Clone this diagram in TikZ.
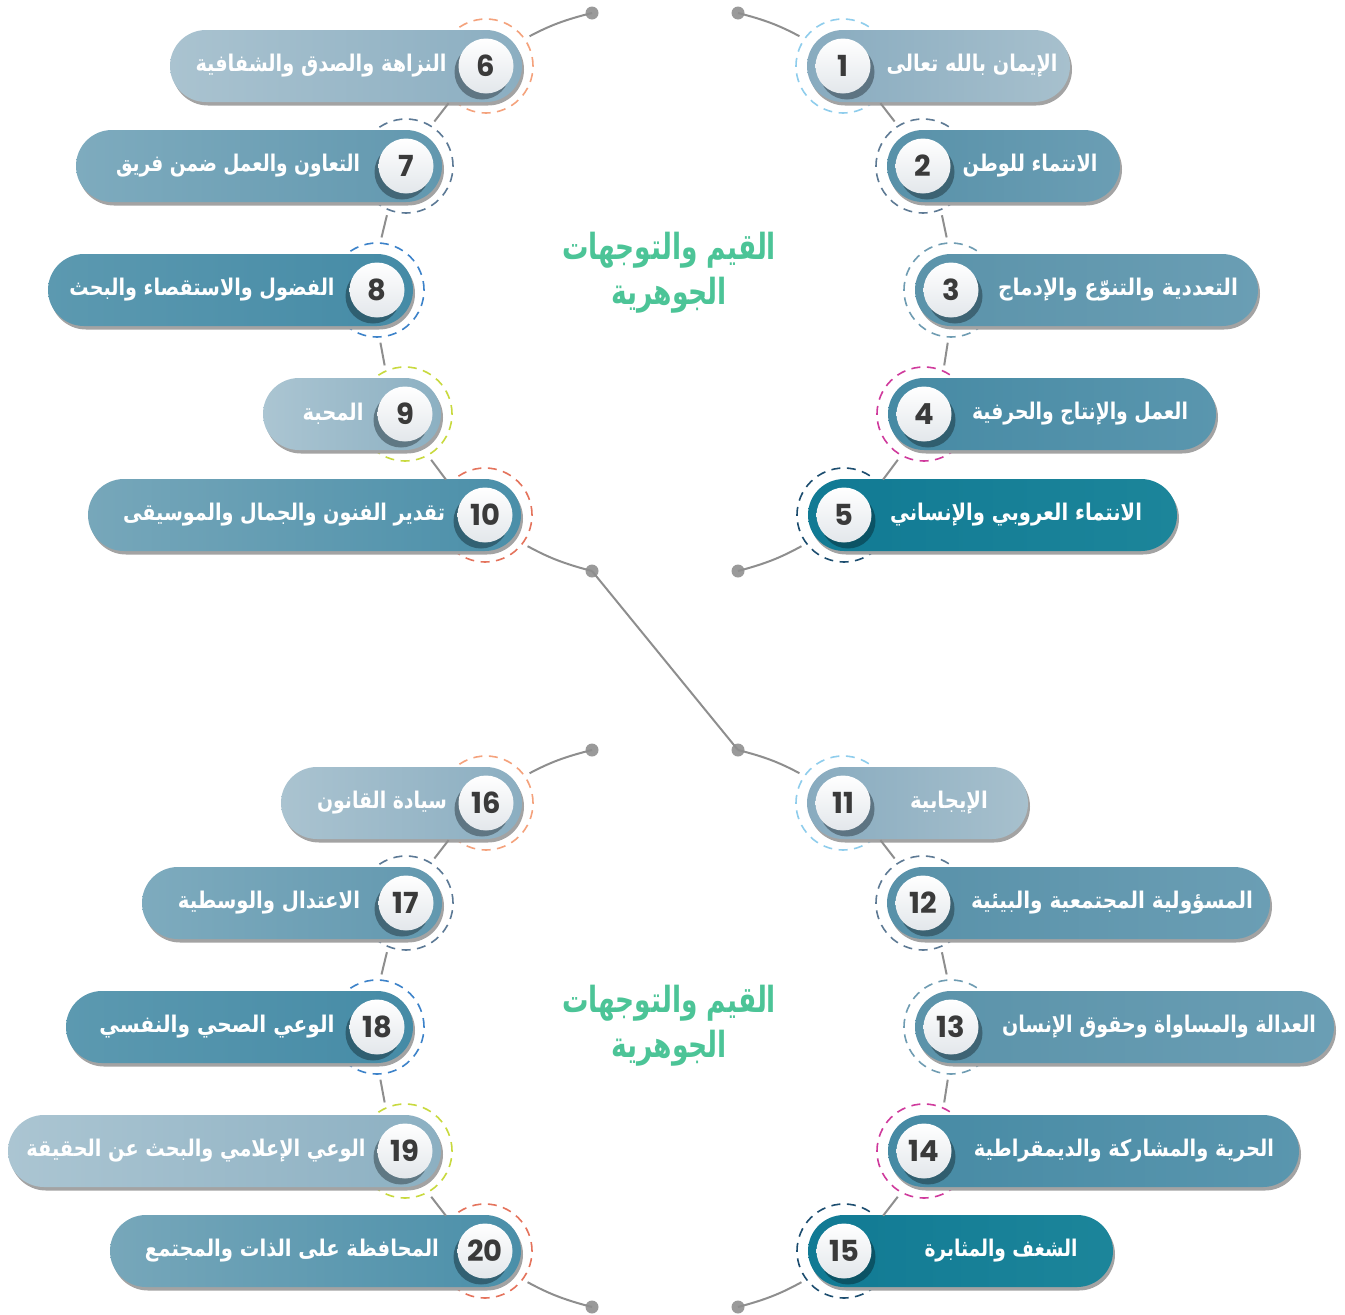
\documentclass[tikz,border=0pt]{standalone}
\usepackage{fontspec}
\usepackage{graphicx}
\TeXXeTstate=1
\newfontfamily\arfont[Script=Arabic]{DejaVu Sans}
\newfontfamily\numfont{Poppins}
\definecolor{dA}{HTML}{88ABBF}\definecolor{lA}{HTML}{A7C0CD}
\definecolor{dB}{HTML}{5891A9}\definecolor{lB}{HTML}{6B9EB4}
\definecolor{dC}{HTML}{5B93AA}\definecolor{lC}{HTML}{6A9EB4}
\definecolor{dD}{HTML}{468AA4}\definecolor{lD}{HTML}{5A96AE}
\definecolor{dE}{HTML}{117A94}\definecolor{lE}{HTML}{1C859A}
\definecolor{dF}{HTML}{8BAEC1}\definecolor{lF}{HTML}{AAC3D0}
\definecolor{dG}{HTML}{6298AF}\definecolor{lG}{HTML}{7EABBE}
\definecolor{dH}{HTML}{458BA6}\definecolor{lH}{HTML}{5C99B0}
\definecolor{dI}{HTML}{8CB0C2}\definecolor{lI}{HTML}{ABC5D2}
\definecolor{dJ}{HTML}{4A8FA9}\definecolor{lJ}{HTML}{77A7BA}
\definecolor{rA}{HTML}{8FCDEC}\definecolor{rB}{HTML}{5E7A94}
\definecolor{rC}{HTML}{6F9CB2}\definecolor{rD}{HTML}{CF3A9C}
\definecolor{rE}{HTML}{1C4D6F}\definecolor{rF}{HTML}{F4A27C}
\definecolor{rG}{HTML}{5C7995}\definecolor{rH}{HTML}{3C82C9}
\definecolor{rI}{HTML}{C8D93E}\definecolor{rJ}{HTML}{E4735C}
\definecolor{numgrey}{HTML}{E3E7EB}
\definecolor{numtext}{HTML}{3A3A3A}
\definecolor{pillshadow}{HTML}{A3A3A3}
\definecolor{conngrey}{HTML}{8E8E8E}
\definecolor{dotgrey}{HTML}{9A9A9A}
\definecolor{titlegreen}{HTML}{4CC497}
\newcommand{\fitw}[2]{\resizebox{#1pt}{\height}{\arfont #2}}
\newcommand{\RPill}[6]{%
  \fill[pillshadow, rounded corners=36pt] ({#2-34},{#3-32.5}) rectangle ({#4+2},{#3+39.5});
  \pgfmathsetmacro{\pw}{#4-#2+36}%
  \pgfmathsetmacro{\pc}{(#2-36+#4)/2}%
  \node[pill, left color=#5, right color=#6, minimum width=\pw pt] (p#1) at (\pc,#3) {};
  \fill[#5!68!black] ({#2+4},{#3+6}) circle (27.5pt);
  \node[numc] (c#1) at (#2,#3) {#1};
}
\newcommand{\LPill}[6]{%
  \fill[pillshadow, rounded corners=36pt] ({#4+2},{#3-32.5}) rectangle ({#2+38},{#3+39.5});
  \pgfmathsetmacro{\pw}{#2-#4+36}%
  \pgfmathsetmacro{\pc}{(#2+36+#4)/2}%
  \node[pill, left color=#6, right color=#5, minimum width=\pw pt] (p#1) at (\pc,#3) {};
  \fill[#5!68!black] ({#2-4},{#3+6}) circle (27.5pt);
  \node[numc] (c#1) at (#2,#3) {#1};
}
\tikzset{
  dring/.style={circle, draw=#1, dash pattern=on 9pt off 6.5pt, line width=1.6pt, minimum size=94pt, inner sep=0pt},
  pill/.style={rectangle, rounded corners=36pt, minimum height=72pt, inner sep=0pt},
  numc/.style={circle, minimum size=55pt, inner sep=0pt, top color=white, bottom color=numgrey, text=numtext, font=\numfont\bfseries\fontsize{29}{29}\selectfont},
  lbl/.style={text=white, inner sep=0pt, font=\bfseries\fontsize{23}{26}\selectfont},
  ttl/.style={text=titlegreen, inner sep=0pt, font=\bfseries\fontsize{36}{40}\selectfont},
  conn/.style={draw=conngrey, line width=2pt, shorten >=5pt, shorten <=5pt},
  dotn/.style={circle, fill=dotgrey, minimum size=13pt, inner sep=0pt},
}
\begin{document}
\begin{tikzpicture}[x=1pt,y=-1pt]
\useasboundingbox (0,0) rectangle (1345,1315);
% rings
\node[dring=rA] (r1) at (843,66) {};
\node[dring=rB] (r2) at (923,166) {};
\node[dring=rC] (r3) at (951,290) {};
\node[dring=rD] (r4) at (924,414) {};
\node[dring=rE] (r5) at (844,515) {};
\node[dring=rF] (r6) at (486,66) {};
\node[dring=rG] (r7) at (406,166) {};
\node[dring=rH] (r8) at (377,290) {};
\node[dring=rI] (r9) at (405,414) {};
\node[dring=rJ] (r10) at (485,515) {};
\node[dring=rA] (r11) at (843,803) {};
\node[dring=rB] (r12) at (923,903) {};
\node[dring=rC] (r13) at (951,1027) {};
\node[dring=rD] (r14) at (924,1151) {};
\node[dring=rE] (r15) at (844,1251) {};
\node[dring=rF] (r16) at (486,803) {};
\node[dring=rG] (r17) at (406,903) {};
\node[dring=rH] (r18) at (377,1027) {};
\node[dring=rI] (r19) at (405,1151) {};
\node[dring=rJ] (r20) at (485,1251) {};
% pills
\RPill{1}{843}{66}{1070}{dA}{lA}
\RPill{2}{923}{166}{1120}{dB}{lB}
\RPill{3}{951}{290}{1258}{dC}{lC}
\RPill{4}{924}{414}{1216}{dD}{lD}
\RPill{5}{844}{515}{1177}{dE}{lE}
\LPill{6}{486}{66}{170}{dF}{lF}
\LPill{7}{406}{166}{76}{dG}{lG}
\LPill{8}{377}{290}{48}{dH}{lH}
\LPill{9}{405}{414}{263}{dI}{lI}
\LPill{10}{485}{515}{88}{dJ}{lJ}
\RPill{11}{843}{803}{1028}{dA}{lA}
\RPill{12}{923}{903}{1270}{dB}{lB}
\RPill{13}{951}{1027}{1334}{dC}{lC}
\RPill{14}{924}{1151}{1299}{dD}{lD}
\RPill{15}{844}{1251}{1113}{dE}{lE}
\LPill{16}{486}{803}{281}{dF}{lF}
\LPill{17}{406}{903}{142}{dG}{lG}
\LPill{18}{377}{1027}{66}{dH}{lH}
\LPill{19}{405}{1151}{8}{dI}{lI}
\LPill{20}{485}{1251}{110}{dJ}{lJ}
% labels
\node[lbl] (t1) at (972,66) {\fitw{171}{\beginR الإيمان بالله تعالى\endR}};
\node[lbl] (t2) at (1030,166) {\fitw{135}{\beginR الانتماء للوطن\endR}};
\node[lbl] (t3) at (1118,290) {\fitw{240}{\beginR التعددية والتنوّع والإدماج\endR}};
\node[lbl] (t4) at (1080,414) {\fitw{216}{\beginR العمل والإنتاج والحرفية\endR}};
\node[lbl] (t5) at (1016,515) {\fitw{252}{\beginR الانتماء العروبي والإنساني\endR}};
\node[lbl] (t6) at (321,66) {\fitw{251}{\beginR النزاهة والصدق والشفافية\endR}};
\node[lbl] (t7) at (238,166) {\fitw{244}{\beginR التعاون والعمل ضمن فريق\endR}};
\node[lbl] (t8) at (202,290) {\fitw{265}{\beginR الفضول والاستقصاء والبحث\endR}};
\node[lbl] (t9) at (333,414) {\fitw{61}{\beginR المحبة\endR}};
\node[lbl] (t10) at (284,515) {\fitw{322}{\beginR تقدير الفنون والجمال والموسيقى\endR}};
\node[lbl] (t11) at (949,803) {\fitw{78}{\beginR الإيجابية\endR}};
\node[lbl] (t12) at (1112,903) {\fitw{282}{\beginR المسؤولية المجتمعية والبيئية\endR}};
\node[lbl] (t13) at (1159,1027) {\fitw{314}{\beginR العدالة والمساواة وحقوق الإنسان\endR}};
\node[lbl] (t14) at (1124,1151) {\fitw{300}{\beginR الحرية والمشاركة والديمقراطية\endR}};
\node[lbl] (t15) at (1001,1251) {\fitw{153}{\beginR الشغف والمثابرة\endR}};
\node[lbl] (t16) at (382,803) {\fitw{130}{\beginR سيادة القانون\endR}};
\node[lbl] (t17) at (269,903) {\fitw{182}{\beginR الاعتدال والوسطية\endR}};
\node[lbl] (t18) at (217,1027) {\fitw{235}{\beginR الوعي الصحي والنفسي\endR}};
\node[lbl] (t19) at (196,1151) {\fitw{339}{\beginR الوعي الإعلامي والبحث عن الحقيقة\endR}};
\node[lbl] (t20) at (292,1251) {\fitw{294}{\beginR المحافظة على الذات والمجتمع\endR}};
% titles
\node[ttl] (h1) at (669,250) {\fitw{214}{\beginR القيم والتوجهات\endR}};
\node[ttl] (h2) at (669,295) {\fitw{116}{\beginR الجوهرية\endR}};
\node[ttl] (h3) at (669,1003) {\fitw{214}{\beginR القيم والتوجهات\endR}};
\node[ttl] (h4) at (669,1048) {\fitw{116}{\beginR الجوهرية\endR}};
% chain connectors
\draw[conn] (r1.-44) -- (r2.122);
\draw[conn] (r2.-68) -- (r3.94);
\draw[conn] (r3.-93) -- (r4.66);
\draw[conn] (r4.-119) -- (r5.41);
\draw[conn] (r6.-136) -- (r7.58);
\draw[conn] (r7.-112) -- (r8.86);
\draw[conn] (r8.-87) -- (r9.114);
\draw[conn] (r9.-61) -- (r10.139);
\draw[conn] (r11.-44) -- (r12.122);
\draw[conn] (r12.-68) -- (r13.94);
\draw[conn] (r13.-93) -- (r14.66);
\draw[conn] (r14.-119) -- (r15.41);
\draw[conn] (r16.-136) -- (r17.58);
\draw[conn] (r17.-112) -- (r18.86);
\draw[conn] (r18.-87) -- (r19.114);
\draw[conn] (r19.-61) -- (r20.139);
% dots
\node[dotn] (dA) at (738,13) {};
\node[dotn] (dB) at (592,13) {};
\node[dotn] (dC) at (592,571) {};
\node[dotn] (dD) at (738,571) {};
\node[dotn] (dE) at (592,750) {};
\node[dotn] (dF) at (738,750) {};
\node[dotn] (dG) at (592,1307) {};
\node[dotn] (dH) at (738,1307) {};
\draw[conn, shorten <=0pt] (dA.center) to[bend left=7] (r1.145);
\draw[conn, shorten <=0pt] (dB.center) to[bend right=7] (r6.35);
\draw[conn, shorten <=0pt] (dC.center) to[bend left=7] (r10.-37);
\draw[conn, shorten <=0pt] (dD.center) to[bend right=7] (r5.-143);
\draw[conn, shorten <=0pt] (dF.center) to[bend left=7] (r11.145);
\draw[conn, shorten <=0pt] (dE.center) to[bend right=7] (r16.35);
\draw[conn, shorten <=0pt] (dG.center) to[bend left=7] (r20.-37);
\draw[conn, shorten <=0pt] (dH.center) to[bend right=7] (r15.-143);
\draw[conn, shorten <=0pt, shorten >=0pt] (dC.center) -- (dF.center);
\end{tikzpicture}
\end{document}
